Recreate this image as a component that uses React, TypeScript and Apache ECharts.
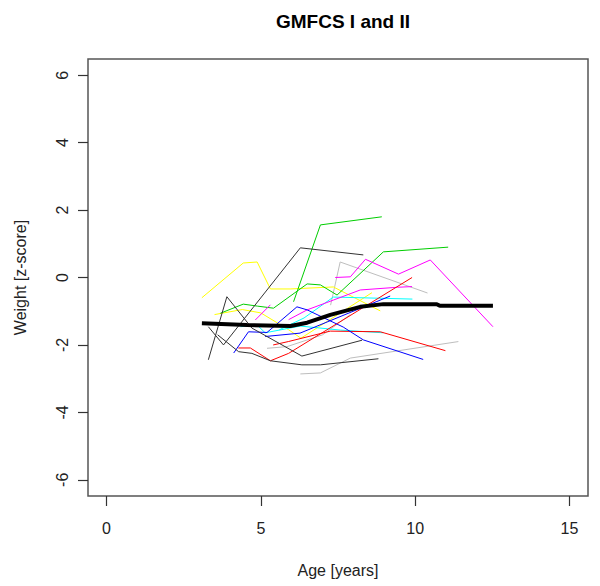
import React, { useEffect, useRef } from "react";
import * as echarts from "echarts";

const xTicks = [0, 5, 10, 15];
const yTicks = [-6, -4, -2, 0, 2, 4, 6];

const yellow1 = [[3.09, -0.6], [4.43, 0.43], [4.88, 0.46], [5.31, -0.34], [5.95, -0.34], [7.35, -0.28], [8.87, -0.99]];
const yellow2 = [[3.5, -1.1], [4.4, -0.95], [5.0, -1.05], [5.9, -1.55], [6.3, -1.8], [8.6, -0.45]];
const green1 = [[6.06, -0.72], [6.93, 1.56], [8.92, 1.8]];
const green2 = [[3.69, -1.06], [4.43, -0.79], [4.9, -0.85], [5.41, -0.91], [6.5, -0.19], [6.93, -0.22], [7.47, -0.52], [8.97, 0.76], [11.07, 0.9]];
const black1 = [[3.3, -2.44], [3.9, -0.57], [4.71, -1.5], [6.33, -2.33], [8.28, -1.86]];
const black2 = [[3.3, -1.46], [3.79, -2.0], [6.28, 0.88], [8.32, 0.67]];
const black3 = [[3.6, -1.7], [4.28, -2.2], [4.71, -2.25], [5.31, -2.47], [6.33, -2.59], [6.93, -2.59], [8.81, -2.41]];
const red1 = [[4.27, -2.09], [4.66, -2.09], [5.31, -2.47], [5.9, -2.25], [9.9, 0.0]];
const red2 = [[5.4, -2.0], [5.89, -1.9], [7.25, -1.59], [8.87, -1.61], [10.98, -2.17]];
const blue1 = [[4.12, -2.24], [4.6, -1.61], [5.2, -1.63], [6.17, -0.87], [6.5, -0.96], [7.67, -1.47], [8.32, -1.85], [10.26, -2.43]];
const blue2 = [[5.14, -1.75], [6.27, -1.65], [9.19, -0.55]];
const cyan1 = [[4.34, -1.46], [4.88, -1.41], [5.14, -1.64], [6.28, -1.44], [7.58, -1.56], [8.97, -1.64]];
const cyan2 = [[5.6, -1.55], [6.4, -1.2], [7.35, -0.58], [9.91, -0.64]];
const magenta1 = [[7.41, 0.0], [7.9, 0.02], [8.39, 0.54], [9.46, 0.1], [10.49, 0.52], [12.52, -1.46]];
const magenta2 = [[5.9, -1.25], [6.5, -0.96], [7.35, -0.67], [8.22, -0.37], [9.42, -0.29], [9.9, -0.27]];
const magenta3 = [[4.82, -1.26], [5.31, -0.81]];
const gray1 = [[7.26, -0.82], [7.57, 0.46], [10.4, -0.46]];
const gray2 = [[6.28, -2.86], [6.93, -2.83], [7.9, -2.39], [11.4, -1.9]];
const gray3 = [[5.2, -2.1], [5.85, -2.05], [7.0, -1.7], [7.9, -1.1]];
const meanLine = [[3.09, -1.36], [4.55, -1.41], [5.96, -1.44], [6.5, -1.34], [7.25, -1.11], [8.22, -0.87], [8.97, -0.79], [10.7, -0.79], [10.8, -0.84], [12.52, -0.84]];

const individual: [number[][], string][] = [
  [gray1, "#BEBEBE"],
  [gray2, "#BEBEBE"],
  [gray3, "#BEBEBE"],
  [yellow1, "#FFFF00"],
  [yellow2, "#FFFF00"],
  [green1, "#00CD00"],
  [green2, "#00CD00"],
  [cyan1, "#00FFFF"],
  [cyan2, "#00FFFF"],
  [magenta1, "#FF00FF"],
  [magenta2, "#FF00FF"],
  [magenta3, "#FF00FF"],
  [red1, "#FF0000"],
  [red2, "#FF0000"],
  [blue1, "#0000FF"],
  [blue2, "#0000FF"],
  [black1, "#333333"],
  [black2, "#333333"],
  [black3, "#333333"],
];

const FONT = "Liberation Sans, Arial, sans-serif";

export default function App() {
  const ref = useRef<HTMLDivElement>(null);
  useEffect(() => {
    if (!ref.current) return;
    const chart = echarts.init(ref.current, null, { renderer: "svg" });
    const series: any[] = individual.map(([d, c]) => ({
      type: "line",
      data: d,
      symbol: "none",
      showSymbol: false,
      lineStyle: { color: c, width: 1 },
      itemStyle: { color: c },
      silent: true,
    }));
    series.push({
      type: "line",
      data: meanLine,
      symbol: "none",
      showSymbol: false,
      lineStyle: { color: "#000", width: 4 },
      z: 5,
      silent: true,
    });
    chart.setOption({
      animation: false,
      backgroundColor: "#fff",
      title: {
        text: "GMFCS I and II",
        left: 338,
        top: 7,
        textAlign: "center",
        textStyle: { fontFamily: FONT, fontSize: 19, fontWeight: "bold", color: "#000" },
      },
      grid: {
        left: 88,
        right: 12,
        top: 59,
        bottom: 90,
        show: true,
        borderColor: "#555",
        borderWidth: 1.5,
        backgroundColor: "transparent",
      },
      xAxis: {
        type: "value",
        min: -0.6,
        max: 15.6,
        splitLine: { show: false },
        axisLine: { show: false, onZero: false },
        axisTick: { show: true, length: 10, customValues: xTicks, lineStyle: { color: "#333", width: 1.2 } },
        axisLabel: { customValues: xTicks, margin: 24, fontSize: 16, color: "#222", fontFamily: FONT },
        name: "Age [years]",
        nameLocation: "middle",
        nameGap: 66,
        nameTextStyle: { fontSize: 16, color: "#222", fontFamily: FONT },
      },
      yAxis: {
        type: "value",
        min: -6.48,
        max: 6.48,
        splitLine: { show: false },
        axisLine: { show: false, onZero: false },
        axisTick: { show: true, length: 10, customValues: yTicks, lineStyle: { color: "#333", width: 1.2 } },
        axisLabel: { customValues: yTicks, rotate: 90, margin: 18, fontSize: 16, color: "#222", fontFamily: FONT },
        name: "Weight [z-score]",
        nameLocation: "middle",
        nameGap: 60,
        nameTextStyle: { fontSize: 16, color: "#222", fontFamily: FONT },
      },
      series,
    });
    return () => chart.dispose();
  }, []);
  return (
    <div
      ref={ref}
      style={{ position: "fixed", left: 0, top: 0, width: 600, height: 586, background: "#fff" }}
    />
  );
}
